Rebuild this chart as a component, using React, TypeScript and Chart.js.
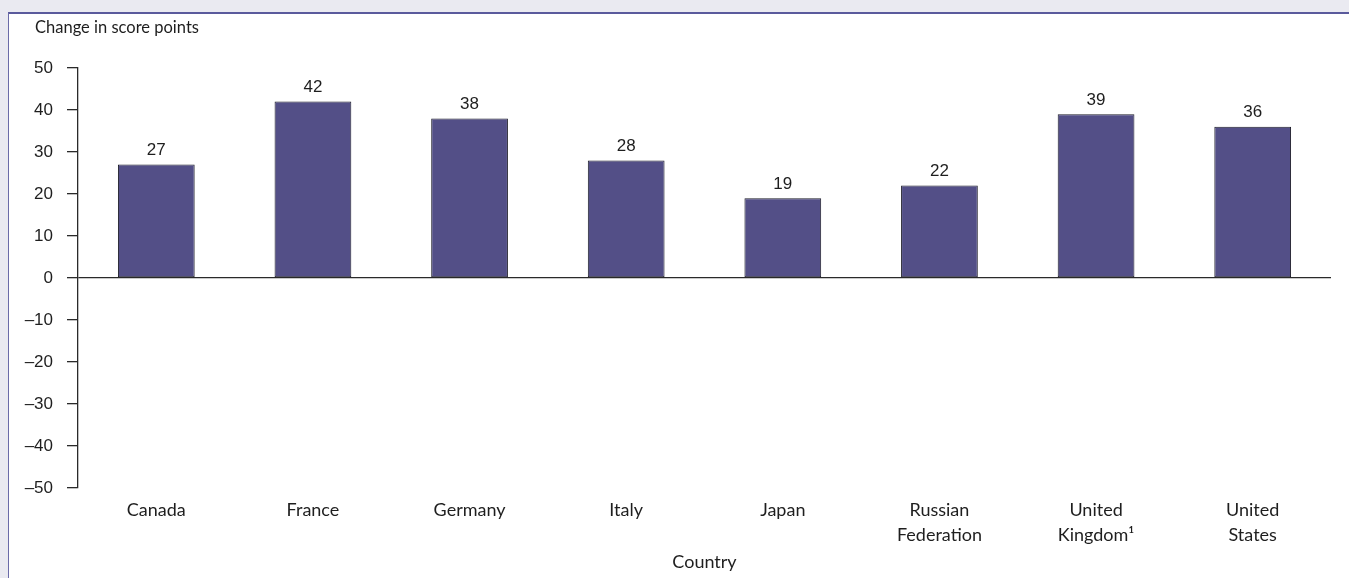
import React, { useEffect, useRef } from "react";
import { Chart, registerables } from "chart.js";

Chart.register(...registerables);

const categories: (string | string[])[] = [
  "Canada",
  "France",
  "Germany",
  "Italy",
  "Japan",
  ["Russian", "Federation"],
  ["United", "Kingdom¹"],
  ["United", "States"],
];
const scoreChange = [27, 42, 38, 28, 19, 22, 39, 36];
const yTicks = [50, 40, 30, 20, 10, 0, -10, -20, -30, -40, -50];
const yAxisLabel = "Change in score points";
const xAxisLabel = "Country";

const W = 1349;
const H = 578;
const TEXT_FONT = "Lato";
const NUM_FONT = "Liberation Sans";

export default function App() {
  const ref = useRef<HTMLCanvasElement | null>(null);

  useEffect(() => {
    if (!ref.current) return;
    const labelPlugin = {
      id: "valueLabels",
      afterDatasetsDraw(chart: any) {
        const ctx = chart.ctx;
        const meta = chart.getDatasetMeta(0);
        ctx.save();
        ctx.font = `17px "${NUM_FONT}"`;
        ctx.fillStyle = "#1e1e1e";
        ctx.textAlign = "center";
        ctx.textBaseline = "middle";
        meta.data.forEach((bar: any, i: number) => {
          ctx.fillText(String(scoreChange[i]), bar.x, bar.y - 14);
        });
        ctx.textAlign = "left";
        ctx.font = `16.5px "${TEXT_FONT}"`;
        ctx.fillText(yAxisLabel, 35, 28);
        ctx.restore();
      },
    };

    const chart = new Chart(ref.current, {
      type: "bar",
      data: {
        labels: categories,
        datasets: [
          {
            data: scoreChange,
            backgroundColor: "#534F87",
            borderColor: "#1E1E2A",
            borderWidth: 1,
            borderSkipped: false,
            barPercentage: 0.49,
            categoryPercentage: 1,
          },
        ],
      },
      options: {
        responsive: false,
        animation: false,
        layout: { padding: { top: 68, right: 18, bottom: 0, left: 0 } },
        plugins: {
          legend: { display: false },
          tooltip: { enabled: false },
          title: { display: false },
        },
        scales: {
          x: {
            position: "bottom",
            offset: true,
            grid: { display: false, drawTicks: false },
            border: { display: false },
            ticks: {
              color: "#1e1e1e",
              font: { family: TEXT_FONT, size: 18, lineHeight: 1.39 },
              padding: 10,
              maxRotation: 0,
              autoSkip: false,
            },
            title: {
              display: true,
              text: xAxisLabel,
              color: "#1e1e1e",
              font: { family: TEXT_FONT, size: 18, lineHeight: 1.2 },
              padding: { top: 0, bottom: 5 },
            },
            afterFit(scale: any) {
              scale.height = 90;
            },
          },
          y: {
            min: -50,
            max: 50,
            afterBuildTicks(scale: any) {
              scale.ticks = yTicks.map((v) => ({ value: v }));
            },
            grid: {
              display: true,
              drawOnChartArea: true,
              drawTicks: true,
              tickLength: 11,
              lineWidth: 1.3,
              color: (c: any) =>
                c.tick && c.tick.value === 0 ? "#2a2a2a" : "rgba(0,0,0,0)",
              tickColor: "#2a2a2a",
            },
            border: { display: true, color: "#2a2a2a", width: 1.3 },
            ticks: {
              color: "#1e1e1e",
              font: { family: NUM_FONT, size: 17 },
              padding: 14,
              callback: (v: any) =>
                Number(v) < 0 ? "\u2013" + Math.abs(Number(v)) : String(v),
            },
            afterFit(scale: any) {
              scale.width = 78;
            },
          },
        },
      },
      plugins: [labelPlugin],
    });
    return () => chart.destroy();
  }, []);

  return (
    <div
      style={{
        position: "fixed",
        left: 0,
        top: 0,
        width: W,
        height: H,
        background: "#EAEAF1",
        overflow: "hidden",
      }}
    >
      <div
        style={{
          position: "absolute",
          left: 8,
          top: 12,
          right: 0,
          bottom: 0,
          background: "#FFFFFF",
          borderLeft: "1px solid #6B6BA8",
          borderTop: "2px solid #5A5A9C",
        }}
      />
      <canvas
        ref={ref}
        width={W}
        height={H}
        style={{ position: "absolute", left: 0, top: 0, width: W, height: H }}
      />
    </div>
  );
}
